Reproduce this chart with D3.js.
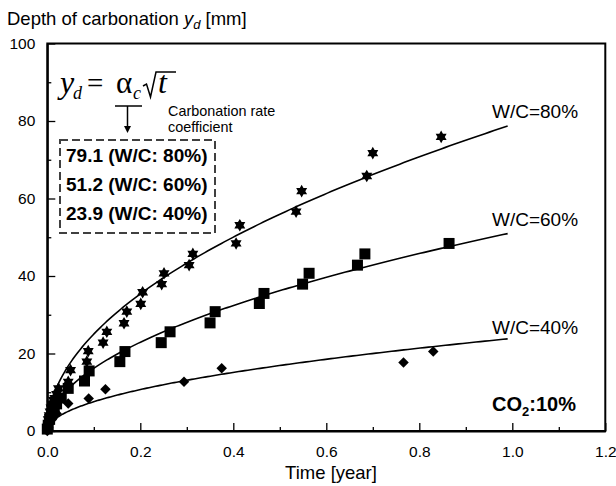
<!DOCTYPE html>
<html><head><meta charset="utf-8">
<script src="https://cdn.jsdelivr.net/npm/d3@7"></script>
<style>body{margin:0;background:#fff}svg{display:block}text{font-family:"Liberation Sans",Arial,sans-serif;fill:#000}</style>
</head><body><svg id="c" width="616" height="486"></svg>
<script>
// ---- data ----
const t80 = [0, 0.002, 0.004, 0.006, 0.008, 0.010, 0.013, 0.016, 0.020, 0.024, 0.045, 0.050, 0.085, 0.088, 0.120, 0.128, 0.165, 0.171, 0.201, 0.205, 0.246, 0.251, 0.305, 0.313, 0.406, 0.414, 0.535, 0.547, 0.687, 0.700, 0.847];
const v80 = [1, 3, 4, 5, 6, 7, 8, 8.5, 9.5, 11.0, 12.7, 15.7, 17.9, 20.6, 22.8, 25.6, 27.8, 30.8, 32.8, 35.8, 37.9, 40.7, 42.8, 45.7, 48.4, 53.1, 56.6, 61.9, 65.8, 71.7, 75.9];
const t60 = [0, 0.002, 0.005, 0.010, 0.015, 0.020, 0.030, 0.045, 0.080, 0.090, 0.156, 0.167, 0.245, 0.264, 0.350, 0.361, 0.456, 0.466, 0.549, 0.563, 0.667, 0.683, 0.864];
const v60 = [0.5, 1.5, 3, 4.5, 6, 7, 8.5, 11.0, 12.9, 15.5, 17.9, 20.5, 22.8, 25.6, 27.9, 30.8, 32.9, 35.5, 37.9, 40.7, 42.8, 45.7, 48.4];
const t40 = [0, 0.002, 0.005, 0.010, 0.020, 0.045, 0.089, 0.125, 0.294, 0.375, 0.766, 0.830];
const v40 = [0, 1, 2, 3, 4.5, 7.1, 8.4, 10.8, 12.7, 16.2, 17.7, 20.5];
const alphas = [79.1, 51.2, 23.9];          // carbonation rate coefficients
const wcLabels = ["W/C=80%", "W/C=60%", "W/C=40%"];
const legendLines = ["79.1 (W/C: 80%)", "51.2 (W/C: 60%)", "23.9 (W/C: 40%)"];
const xTicks = [0, 0.2, 0.4, 0.6, 0.8, 1.0, 1.2];
const xMinor = [0.1, 0.3, 0.5, 0.7, 0.9, 1.1];
const yTicks = [0, 20, 40, 60, 80, 100];
const yMinor = [10, 30, 50, 70, 90];
const tEnd = 0.99;

// ---- layout ----
const svg = d3.select("#c");
const x = d3.scaleLinear().domain([0, 1.2]).range([47.3, 605.3]);
const y = d3.scaleLinear().domain([0, 100]).range([431, 43.5]);

// frame
svg.append("rect").attr("x", x(0)).attr("y", y(100)).attr("width", x(1.2)-x(0)).attr("height", y(0)-y(100))
  .attr("fill", "none").attr("stroke", "#000").attr("stroke-width", 2);

function styleAxis(g){ g.select(".domain").attr("stroke-width", 2); g.selectAll(".tick line").attr("stroke-width", 1.3); }
const gx = svg.append("g").attr("transform", `translate(0,${y(0)})`)
  .call(d3.axisBottom(x).tickValues(xTicks).tickFormat(d3.format(".1f")).tickSize(-8).tickSizeOuter(0).tickPadding(15));
gx.selectAll("text").attr("font-size", 15.5).attr("font-family", "Liberation Sans, Arial");
styleAxis(gx);
const gxm = svg.append("g").attr("transform", `translate(0,${y(0)})`)
  .call(d3.axisBottom(x).tickValues(xMinor).tickFormat("").tickSize(-4).tickSizeOuter(0));
gxm.select(".domain").remove(); gxm.selectAll(".tick line").attr("stroke-width", 1.3);

const gy = svg.append("g").attr("transform", `translate(${x(0)},0)`)
  .call(d3.axisLeft(y).tickValues(yTicks).tickSize(-8).tickSizeOuter(0).tickPadding(12));
gy.selectAll("text").attr("font-size", 15.5).attr("font-family", "Liberation Sans, Arial");
styleAxis(gy);
const gym = svg.append("g").attr("transform", `translate(${x(0)},0)`)
  .call(d3.axisLeft(y).tickValues(yMinor).tickFormat("").tickSize(-4).tickSizeOuter(0));
gym.select(".domain").remove(); gym.selectAll(".tick line").attr("stroke-width", 1.3);

// fitted curves y = alpha*sqrt(t)
const line = d3.line().x(d => x(d[0])).y(d => y(d[1]));
const tGrid = d3.range(0, 201).map(i => tEnd * Math.pow(i/200, 2));
alphas.forEach(a => {
  svg.append("path").attr("d", line(tGrid.map(t => [t, a*Math.sqrt(t)])))
    .attr("fill", "none").attr("stroke", "#000").attr("stroke-width", 1.6);
});

// symbols
const hexagram = { draw(ctx, size){ const R = Math.sqrt(size)/2, r = R/Math.sqrt(3);
  for (let i=0;i<12;i++){ const ang = -Math.PI/2 + i*Math.PI/6, rr = i%2===0 ? R : r;
    const px = rr*Math.cos(ang), py = rr*Math.sin(ang); if(i===0) ctx.moveTo(px,py); else ctx.lineTo(px,py);} ctx.closePath(); } };
const diamond = { draw(ctx, size){ const h = Math.sqrt(size)/2; ctx.moveTo(0,-h); ctx.lineTo(h,0); ctx.lineTo(0,h); ctx.lineTo(-h,0); ctx.closePath(); } };

function plotPts(ts, vs, type, size){
  svg.append("g").selectAll("path").data(ts.map((t,i)=>[t, vs[i]])).join("path")
    .attr("transform", d => `translate(${x(d[0])},${y(d[1])})`)
    .attr("d", d3.symbol().type(type).size(size)).attr("fill", "#000");
}
plotPts(t40, v40, diamond, 110);
plotPts(t60, v60, d3.symbolSquare, 121);
plotPts(t80, v80, hexagram, 160);

// curve labels
const wcY = [118, 226, 334];
wcLabels.forEach((s,i) => svg.append("text").attr("x", 492).attr("y", wcY[i]).attr("font-size", 19).text(s));

// title & axis label
const tt = svg.append("text").attr("x", 7).attr("y", 25).attr("font-size", 18.5);
tt.append("tspan").text("Depth of carbonation ");
tt.append("tspan").attr("font-style", "italic").text("y");
tt.append("tspan").attr("font-style", "italic").attr("font-size", 13).attr("dy", 4).text("d");
tt.append("tspan").attr("dy", -4).text(" [mm]");
svg.append("text").attr("x", 331).attr("y", 479).attr("text-anchor", "middle").attr("font-size", 18.5).text("Time [year]");

// CO2 label
const co = svg.append("text").attr("x", 576).attr("y", 411).attr("text-anchor", "end").attr("font-size", 20).attr("font-weight", "bold");
co.append("tspan").text("CO");
co.append("tspan").attr("font-size", 13).attr("dy", 5).text("2");
co.append("tspan").attr("dy", -5).text(":10%");

// formula
const serif = "Liberation Serif, Times New Roman, serif";
const f = svg.append("g");
function ft(xp, yp, fs, it, s){ f.append("text").attr("x", xp).attr("y", yp).attr("font-size", fs)
  .attr("font-style", it ? "italic" : "normal").style("font-family", serif).text(s); }
ft(60, 93, 32, true, "y");
ft(73, 99, 18, true, "d");
ft(87, 93, 29, false, "=");
ft(116, 93, 31, false, "α");
ft(133, 99, 18, true, "c");
f.append("path").attr("d", "M143,86 L146.5,84 L150.5,97 L156,72 L176,72").attr("fill", "none").attr("stroke", "#000").attr("stroke-width", 1.5);
ft(158, 93, 32, true, "t");

// arrow
svg.append("line").attr("x1", 115).attr("x2", 142).attr("y1", 106).attr("y2", 106).attr("stroke", "#000").attr("stroke-width", 1.5);
svg.append("line").attr("x1", 127.5).attr("x2", 127.5).attr("y1", 106).attr("y2", 127).attr("stroke", "#000").attr("stroke-width", 1.5);
svg.append("path").attr("d", "M124,126 L131,126 L127.5,133 Z").attr("fill", "#000");
svg.append("text").attr("x", 168).attr("y", 116).attr("font-size", 14.4).text("Carbonation rate");
svg.append("text").attr("x", 168).attr("y", 132).attr("font-size", 14.4).text("coefficient");

// legend box
svg.append("rect").attr("x", 60).attr("y", 140).attr("width", 155).attr("height", 93)
  .attr("fill", "#fff").attr("stroke", "#404040").attr("stroke-width", 2).attr("stroke-dasharray", "8,4");
const legY = [162, 191, 220];
legendLines.forEach((s,i) => svg.append("text").attr("x", 66).attr("y", legY[i]).attr("font-size", 19).attr("font-weight", "bold").text(s));
</script></body></html>
